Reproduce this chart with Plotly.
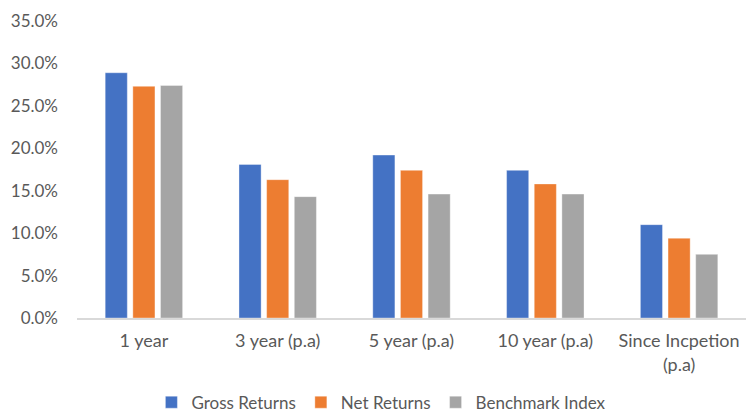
import plotly.graph_objects as go

categories = ["1 year", "3 year (p.a)", "5 year (p.a)", "10 year (p.a)", "Since Incpetion<br>(p.a)"]
gross_returns = [28.9, 18.1, 19.2, 17.4, 11.0]
net_returns = [27.3, 16.3, 17.4, 15.8, 9.4]
benchmark_index = [27.4, 14.3, 14.6, 14.6, 7.5]

FONT = "Lato"
GREY = "#595959"

fig = go.Figure()
for name, vals, color in [("Gross Returns", gross_returns, "#4472C4"),
                          ("Net Returns", net_returns, "#ED7D31"),
                          ("Benchmark Index", benchmark_index, "#A5A5A5")]:
    fig.add_trace(go.Bar(
        x=categories, y=vals, name=name,
        marker=dict(color=color, line=dict(color="rgba(255,255,255,0.6)", width=0.6)),
    ))

fig.update_layout(
    width=747, height=415,
    margin=dict(l=77, r=1, t=21, b=97, autoexpand=False),
    paper_bgcolor="white", plot_bgcolor="white",
    barmode="group", bargap=0.38, bargroupgap=0.2,
    font=dict(family=FONT, size=17, color=GREY),
    showlegend=True,
    legend=dict(orientation="h", x=0.455, xanchor="center", y=-0.285, yanchor="middle",
                font=dict(size=17, color=GREY), itemwidth=30),
)
fig.update_xaxes(showline=True, linecolor="#D9D9D9", linewidth=1.5, showgrid=False,
                 ticks="", tickfont=dict(size=18, color=GREY), automargin=False,
                 ticklabelstandoff=6)
fig.update_yaxes(range=[0, 35], dtick=5, tickformat=".1f", ticksuffix="%", showgrid=False,
                 zeroline=False, showline=False, ticks="", tickfont=dict(size=17, color=GREY),
                 automargin=False, ticklabelstandoff=18)

fig.write_html("out.html", config={"displayModeBar": False},
               post_script="document.body.style.margin='0';")
